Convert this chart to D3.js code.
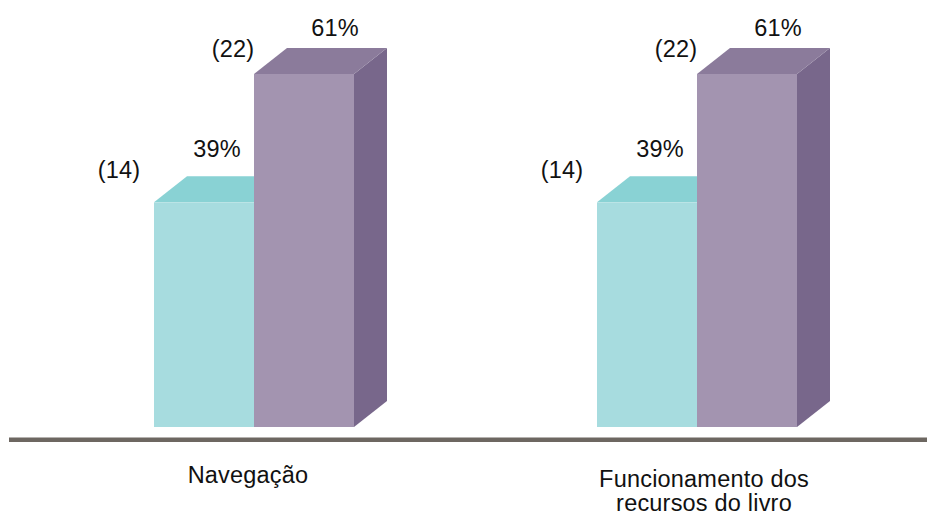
<!DOCTYPE html>
<html>
<head>
<meta charset="utf-8">
<script src="https://cdn.jsdelivr.net/npm/d3@7"></script>
<style>
  body { margin: 0; background: #fff; }
  text { font-family: "Liberation Sans", Arial, sans-serif; fill: #111; letter-spacing: 0.2px; }
</style>
</head>
<body>
<script>
// data
var categories = ["Navegação", "Funcionamento dos recursos do livro"];
var categoryLines = [["Navegação"], ["Funcionamento dos", "recursos do livro"]];
var seriesNames = ["Não", "Sim"];
var counts = [[14, 22], [14, 22]];
var percents = ["39%", "61%"];

var W = 927, H = 515;
var depthX = 33, depthY = 26;

// colours per series: front, top, side
var seriesColors = [
  { front: "#a7dcdf", top: "#89d2d4", side: "#72c0c4" },
  { front: "#a394b0", top: "#8b7b9b", side: "#78678b" }
];
// label offsets per series, relative to bar front-left / top
var labelPos = [
  { cx: -35, cy: -24, px: 63, py: -45 },
  { cx: -21, cy: -17, px: 81, py: -38 }
];
var catNudge = [-6, 7];

var svg = d3.select("body").append("svg")
  .attr("width", W)
  .attr("height", H);

var x0 = d3.scaleBand()
  .domain(categories)
  .range([32.5, 918.5])
  .paddingInner(243 / 443)
  .paddingOuter(243 / 443 / 2);

var x1 = d3.scaleBand()
  .domain(seriesNames)
  .range([0, x0.bandwidth()]);

var y = d3.scaleLinear()
  .domain([0, 22])
  .range([427, 74]);

var bars = [];
categories.forEach(function(c, ci) {
  seriesNames.forEach(function(s, si) {
    bars.push({ cat: c, ser: s, si: si, value: counts[ci][si], pct: percents[si] });
  });
});

var g = svg.selectAll("g.bar")
  .data(bars)
  .enter()
  .append("g")
  .attr("class", "bar");

g.each(function(d) {
  var sel = d3.select(this);
  var xl = x0(d.cat) + x1(d.ser);
  var xr = xl + x1.bandwidth();
  var yt = y(d.value);
  var yb = y(0);
  var col = seriesColors[d.si];

  // side face
  sel.append("path")
    .attr("d", "M" + xr + "," + yt + "L" + (xr + depthX) + "," + (yt - depthY) +
      "L" + (xr + depthX) + "," + (yb - depthY) + "L" + xr + "," + yb + "Z")
    .style("fill", col.side);
  // top face
  sel.append("path")
    .attr("d", "M" + xl + "," + yt + "L" + (xl + depthX) + "," + (yt - depthY) +
      "L" + (xr + depthX) + "," + (yt - depthY) + "L" + xr + "," + yt + "Z")
    .style("fill", col.top);
  // front face
  sel.append("rect")
    .attr("x", xl)
    .attr("y", yt)
    .attr("width", x1.bandwidth())
    .attr("height", yb - yt)
    .style("fill", col.front);

  var lp = labelPos[d.si];
  sel.append("text")
    .attr("x", xl + lp.cx)
    .attr("y", yt + lp.cy)
    .attr("text-anchor", "middle")
    .style("font-size", "23.5px")
    .text("(" + d.value + ")");
  sel.append("text")
    .attr("x", xl + lp.px)
    .attr("y", yt + lp.py)
    .attr("text-anchor", "middle")
    .style("font-size", "23.5px")
    .text(d.pct);
});

// base line
svg.append("rect")
  .attr("x", 9)
  .attr("y", 437.5)
  .attr("width", W - 9)
  .attr("height", 4.5)
  .style("fill", "#6d6761");

// category labels
var lab = svg.selectAll("text.cat")
  .data(categories)
  .enter()
  .append("text")
  .attr("class", "cat")
  .attr("text-anchor", "middle")
  .style("font-size", "23.5px")
  .attr("transform", function(d, i) {
    return "translate(" + (x0(d) + x0.bandwidth() / 2 + catNudge[i]) + "," + (i === 0 ? 483 : 487) + ")";
  });

lab.selectAll("tspan")
  .data(function(d, i) { return categoryLines[i]; })
  .enter()
  .append("tspan")
  .attr("x", 0)
  .attr("dy", function(d, i) { return i === 0 ? 0 : 24; })
  .text(function(d) { return d; });
</script>
</body>
</html>
